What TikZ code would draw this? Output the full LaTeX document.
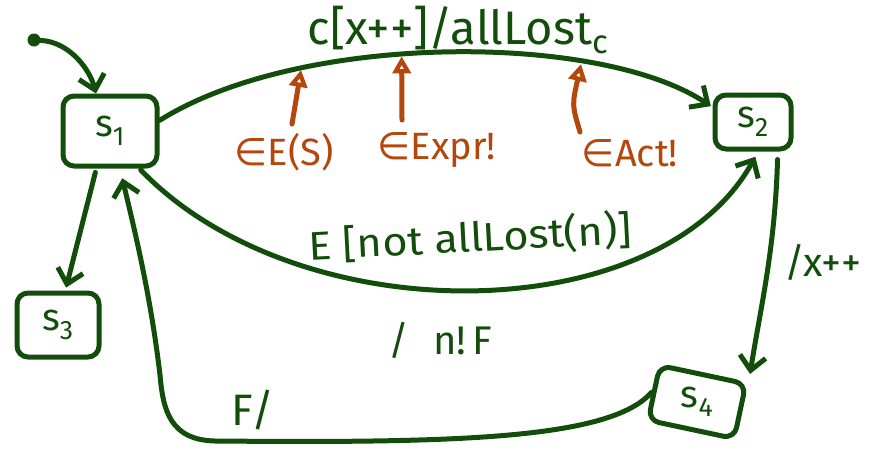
\documentclass[tikz,border=0pt]{standalone}
\usepackage{fontspec}
\setmainfont{Fira Sans}
\newfontfamily\symfont{DejaVu Sans}
\usetikzlibrary{arrows.meta}
\definecolor{dg}{HTML}{134D0C}
\definecolor{org}{HTML}{B3470C}
\newcommand{\elem}{{\symfont ∈}}
\begin{document}
\begin{tikzpicture}[x=1pt,y=-1pt,line cap=round,line join=round,
  state/.style={draw=dg,line width=5pt,rounded corners=11pt,inner sep=0pt},
  slabel/.style={text=dg,inner sep=0pt,font=\fontsize{38}{38}\selectfont},
  garrow/.style={draw=dg,line width=5pt,-{Straight Barb[length=14pt,width=26pt]}},
  oarrow/.style={draw=org,line width=5pt,-{Triangle[open,length=17pt,width=18pt]}},
  glabel/.style={text=dg,inner sep=0pt},
  olabel/.style={text=org,inner sep=0pt,font=\fontsize{38}{38}\selectfont}]
\useasboundingbox (0,0) rectangle (872,453);

% states
\node[state,minimum width=94pt,minimum height=70pt] (s1) at (110,131) {};
\node[state,minimum width=76pt,minimum height=54pt] (s2) at (753,122) {};
\node[state,minimum width=82pt,minimum height=64pt] (s3) at (58,325) {};
\node[state,minimum width=88pt,minimum height=56pt,rotate=-12] (s4) at (697,402) {};
\node[slabel] (t1) at (s1) {s\textsubscript{1}};
\node[slabel] (t2) at (s2) {s\textsubscript{2}};
\node[slabel] (t3) at (s3) {s\textsubscript{3}};
\node[slabel] (t4) at (s4) {s\textsubscript{4}};

% initial
\node[circle,fill=dg,inner sep=0pt,minimum size=13pt] (init) at (34,40) {};
\draw[garrow] (init) .. controls (70,42) and (90,70) .. ([xshift=-14pt]s1.north);

% top transition s1 -> s2
\draw[garrow,shorten >=2pt] (s1.12) .. controls (300,32) and (600,32) .. (s2.160)
  coordinate[pos=0.27] (c1) coordinate[pos=0.43] (c2) coordinate[pos=0.72] (c3);
\node[glabel,font=\fontsize{47}{47}\selectfont] (top) at (458,30) {c[x++]/allLost\textsubscript{c}};

% orange annotations
\node[olabel] (o1) at (284,152) {\elem E(S)};
\node[olabel] (o2) at (437,150) {\elem Expr!};
\node[olabel] (o3) at (630,153) {\elem Act!};
\coordinate (o1s) at (292,124);
\coordinate (o2s) at (402,120);
\coordinate (o3s) at (580,132);
\draw[oarrow,shorten >=2pt] (o1s) -- (c1);
\draw[oarrow,shorten >=2pt] (o2s) -- (c2);
\draw[oarrow,shorten >=2pt] (o3s) .. controls (572,105) .. (c3);

% lower transition s1 -> s2
\draw[garrow,shorten <=2pt,shorten >=6pt] (s1.-52) .. controls (300,335) and (660,330) .. (s2.-80);
\node[glabel,font=\fontsize{40}{40}\selectfont,rotate=3] (lab2) at (470,238) {\scalebox{1.08}[1]{E [not allLost(n)]}};
\node[glabel,font=\fontsize{40}{40}\selectfont] (lab3) at (440,340) {/\hspace{0.6em}n!\hspace{0.15em}F};

% s1 -> s3
\draw[garrow,shorten <=4pt,shorten >=3pt] (s1.-110) -- (s3.78);

% s2 -> s4
\draw[garrow,shorten <=8pt,shorten >=8pt] (s2.-50) .. controls (775,250) and (760,310) .. (s4.north east);
\node[glabel,font=\fontsize{40}{40}\selectfont] (lab4) at (823,262) {/x++};

% s4 -> s1
\coordinate (r1) at (215,441);
\coordinate (r2) at (160,375);
\draw[garrow,shorten >=10pt] (s4.west) .. controls (610,440) and (450,443) .. (r1)
  .. controls (170,440) and (163,410) .. (r2)
  .. controls (150,290) and (132,220) .. (s1.-75);
\node[glabel,font=\fontsize{44}{44}\selectfont] (lab5) at (253,410) {F/};
\end{tikzpicture}
\end{document}
